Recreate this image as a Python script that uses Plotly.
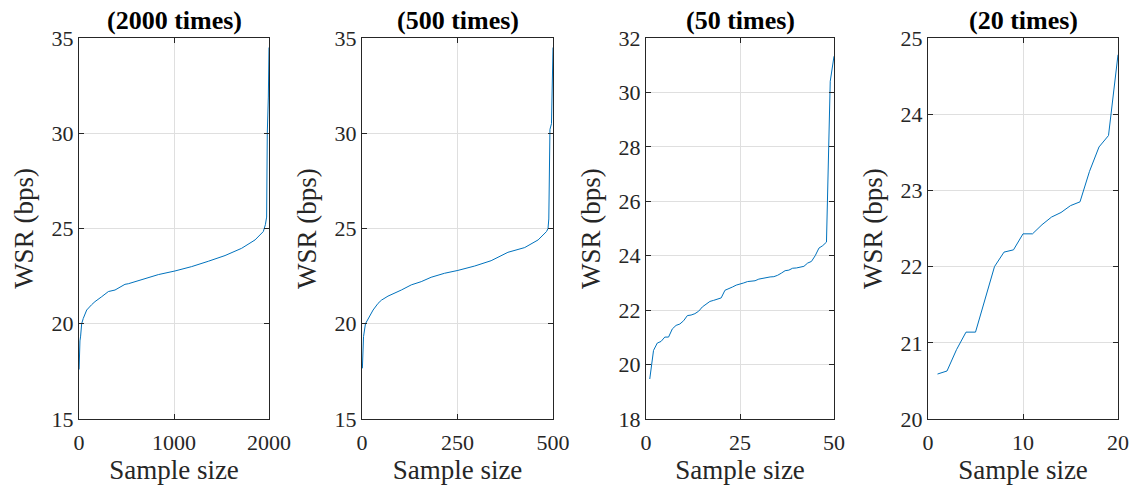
import plotly.graph_objects as go

# ---- data ----
titles = ["(2000 times)", "(500 times)", "(50 times)", "(20 times)"]

x2000 = [1, 5, 10, 17, 28, 45, 81, 133, 168, 239, 309, 379, 484, 519, 660, 835, 1010,
         1186, 1361, 1537, 1712, 1853, 1940, 1962, 1975, 1982, 1993, 2000]
y2000 = [17.6, 18.6, 19.1, 19.35, 20.0, 20.28, 20.72, 21.0, 21.16, 21.42, 21.69, 21.77,
         22.07, 22.1, 22.33, 22.58, 22.77, 23.0, 23.28, 23.58, 23.96, 24.40, 24.84,
         25.2, 25.6, 30.0, 31.9, 34.5]

x500 = [1, 4, 9, 16, 29, 42, 51, 68, 86, 103, 129, 155, 181, 216, 251, 295, 338, 382,
        426, 461, 483, 487, 489, 492, 496, 500]
y500 = [17.66, 19.32, 20.0, 20.28, 20.72, 21.07, 21.24, 21.45, 21.6, 21.77, 22.04, 22.21,
        22.44, 22.65, 22.8, 23.03, 23.31, 23.75, 24.0, 24.4, 24.84, 25.0, 25.5, 30.2,
        30.5, 34.5]

x50 = list(range(1, 51))
y50 = [19.47, 20.52, 20.79, 20.85, 21.01, 21.01, 21.31, 21.44, 21.49, 21.61,
       21.80, 21.82, 21.87, 21.96, 22.12, 22.23, 22.32, 22.36, 22.41, 22.45,
       22.73, 22.78, 22.85, 22.92, 22.95, 23.00, 23.05, 23.06, 23.08, 23.14,
       23.17, 23.19, 23.22, 23.23, 23.28, 23.36, 23.45, 23.47, 23.54, 23.55,
       23.59, 23.61, 23.73, 23.79, 24.00, 24.28, 24.37, 24.50, 30.41, 31.33]

x20 = list(range(1, 21))
y20 = [20.59, 20.63, 20.91, 21.14, 21.14, 21.57, 22.00, 22.19, 22.22, 22.43,
       22.43, 22.55, 22.65, 22.71, 22.80, 22.85, 23.25, 23.57, 23.72, 24.78]

xs = [x2000, x500, x50, x20]
ys = [y2000, y500, y50, y20]

x_ranges = [[0, 2000], [0, 500], [0, 50], [0, 20]]
x_ticks = [[0, 1000, 2000], [0, 250, 500], [0, 25, 50], [0, 10, 20]]
y_ranges = [[15, 35], [15, 35], [18, 32], [20, 25]]
y_ticks = [[15, 20, 25, 30, 35], [15, 20, 25, 30, 35],
           [18, 20, 22, 24, 26, 28, 30, 32], [20, 21, 22, 23, 24, 25]]

x_label = "Sample size"
y_label = "WSR (bps)"

# ---- layout ----
W, H = 1133, 489
x_dom_px = [(79, 269), (362, 553), (646, 834), (928, 1118)]
y_dom_px = (38, 419)

FONT = "Liberation Serif"
AX = "#262626"
GRID = "#DFDFDF"
LINE = "#0072BD"

fig = go.Figure()
layout = dict(
    width=W, height=H,
    margin=dict(l=0, r=0, t=0, b=0, autoexpand=False),
    paper_bgcolor="white", plot_bgcolor="white",
    showlegend=False,
    font=dict(family=FONT, color=AX, size=22),
)

annotations = []
for i in range(4):
    n = "" if i == 0 else str(i + 1)
    fig.add_trace(go.Scatter(x=xs[i], y=ys[i], mode="lines",
                             line=dict(color=LINE, width=1),
                             xaxis="x" + n, yaxis="y" + n))
    x0, x1 = x_dom_px[i]
    common = dict(showline=True, linecolor=AX, linewidth=1, mirror="ticks",
                  ticks="inside", ticklen=5, tickcolor=AX, tickwidth=1,
                  showgrid=True, gridcolor=GRID, gridwidth=1, zeroline=False,
                  automargin=False,
                  tickfont=dict(family=FONT, size=22, color=AX))
    layout["xaxis" + n] = dict(
        domain=[x0 / W, x1 / W], anchor="y" + n,
        range=x_ranges[i], tickvals=x_ticks[i], ticklabelstandoff=4,
        title=dict(text=x_label, font=dict(family=FONT, size=27, color=AX), standoff=4),
        **common)
    layout["yaxis" + n] = dict(
        domain=[1 - y_dom_px[1] / H, 1 - y_dom_px[0] / H], anchor="x" + n,
        range=y_ranges[i], tickvals=y_ticks[i],
        title=dict(text=y_label, font=dict(family=FONT, size=27, color=AX), standoff=10),
        **common)
    annotations.append(dict(
        text="<b>" + titles[i] + "</b>", xref="paper", yref="paper",
        x=(x0 + x1) / 2 / W, y=1 - 20 / H, xanchor="center", yanchor="middle",
        showarrow=False, font=dict(family=FONT, size=26, color="black")))

layout["annotations"] = annotations
fig.update_layout(**layout)
fig.write_html("out.html", config={"displayModeBar": False},
               post_script="document.body.style.margin='0';document.body.style.overflow='hidden';")
